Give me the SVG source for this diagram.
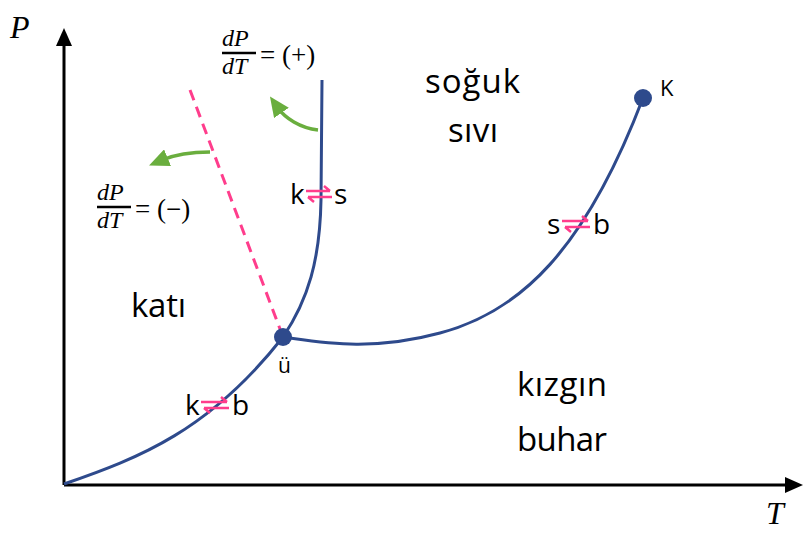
<svg xmlns="http://www.w3.org/2000/svg" width="803" height="533" viewBox="0 0 803 533">
<style>
.lbl{font-family:"Open Sans","Liberation Sans",sans-serif;fill:#000;}
.big{font-size:33px;}
.mid{font-size:28px;}
.math{font-family:"Liberation Serif","DejaVu Serif",serif;font-style:italic;}
.mathn{font-family:"Liberation Serif","DejaVu Serif",serif;}
.curve{fill:none;stroke:#2E4A8C;stroke-width:3;}
.pink{fill:none;stroke:#FF3D8C;stroke-width:2.5;}
.green{fill:none;stroke:#6AAE3E;stroke-width:3.5;}
</style>
<defs>
<marker id="gr" markerWidth="20" markerHeight="18" refX="6" refY="9" orient="auto" markerUnits="userSpaceOnUse" viewBox="0 0 20 18"><path d="M0,0 L20,9 L0,18 Z" fill="#6AAE3E"/></marker>
</defs>
<g id="axes">
<line x1="64" y1="485" x2="64" y2="42" stroke="#000" stroke-width="3"/>
<path d="M64,28 L56,46 L72,46 Z" fill="#000"/>
<line x1="64" y1="485" x2="788" y2="485" stroke="#000" stroke-width="3"/>
<path d="M803,485 L785,477 L785,493 Z" fill="#000"/>
<text x="10" y="38" class="math" font-size="32">P</text>
<text x="766" y="524" class="math" font-size="32">T</text>
</g>
<g id="connectors">
<path class="curve" d="M64,484 C 140,458 210,430 283,337"/>
<path class="curve" d="M283,337 C 308,300 320,260 321,200 L 322,80"/>
<path class="curve" d="M283,337 C 320,342 370,352 440,333 C 520,312 585,250 643,98"/>
<path fill="none" stroke="#FF3D8C" stroke-width="3" stroke-dasharray="11,7" d="M190,90 L283,337"/>
<path class="green" d="M318,130 C 300,128 285,118 278,108" marker-end="url(#gr)"/>
<path class="green" d="M210,152 C 190,152 174,155 162,160" marker-end="url(#gr)"/>
</g>
<g id="triple">
<circle cx="283" cy="337" r="9" fill="#2E4A8C"/>
<text x="278" y="373" class="lbl" font-size="21">ü</text>
</g>
<g id="critical">
<circle cx="643" cy="98" r="9" fill="#2E4A8C"/>
<text x="660" y="96" class="lbl" font-size="22">K</text>
</g>
<g id="liquid">
<text x="425" y="93" class="lbl big" textLength="95">soğuk</text>
<text x="448" y="142" class="lbl big" textLength="50">sıvı</text>
</g>
<g id="solid">
<text x="131" y="317" class="lbl big" textLength="55">katı</text>
</g>
<g id="vapor">
<text x="517" y="396" class="lbl big" textLength="90">kızgın</text>
<text x="517" y="451" class="lbl big" textLength="90">buhar</text>
</g>
<g id="ks">
<text x="290" y="204" class="lbl mid">k</text>
<text x="334" y="204" class="lbl mid">s</text>
<path class="pink" d="M306,191 L330,191 M324,186 L330,191"/>
<path class="pink" d="M332,197 L308,197 M314,202 L308,197"/>
</g>
<g id="sb">
<text x="547" y="234" class="lbl mid">s</text>
<text x="593" y="234" class="lbl mid">b</text>
<path class="pink" d="M562,221 L588,221 M582,216 L588,221"/>
<path class="pink" d="M590,227 L565,227 M571,232 L565,227"/>
</g>
<g id="kb">
<text x="185" y="415" class="lbl mid">k</text>
<text x="232" y="415" class="lbl mid">b</text>
<path class="pink" d="M201,402 L227,402 M221,397 L227,402"/>
<path class="pink" d="M229,408 L204,408 M210,413 L204,408"/>
</g>
<g id="slope-pos">
<text x="222" y="46" class="math" font-size="24">dP</text>
<line x1="222" y1="53" x2="256" y2="53" stroke="#000" stroke-width="2.5"/>
<text x="222" y="74" class="math" font-size="24">dT</text>
<text x="260" y="64" class="mathn" font-size="27">= (+)</text>
</g>
<g id="slope-neg">
<text x="97" y="200" class="math" font-size="24">dP</text>
<line x1="97" y1="207" x2="131" y2="207" stroke="#000" stroke-width="2.5"/>
<text x="97" y="228" class="math" font-size="24">dT</text>
<text x="135" y="218" class="mathn" font-size="27">= (−)</text>
</g>
</svg>
